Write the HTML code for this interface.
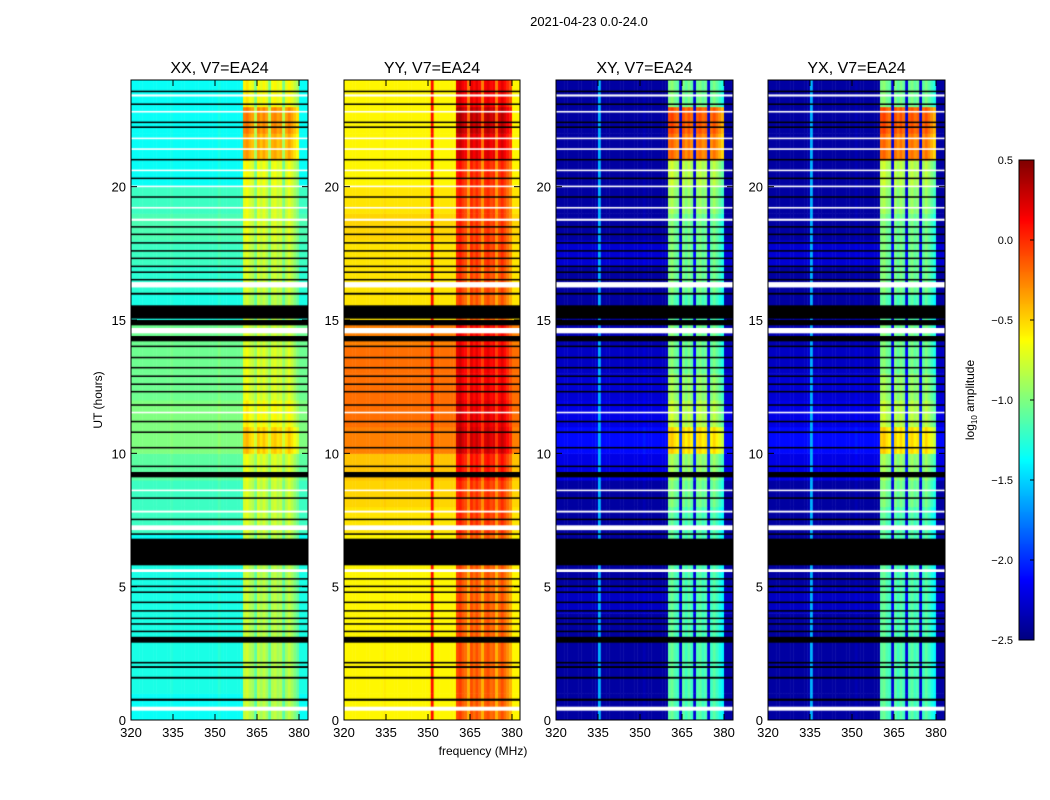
<!DOCTYPE html>
<html><head><meta charset="utf-8">
<style>
body{margin:0;background:#fff;width:1050px;height:800px;overflow:hidden;position:relative;font-family:"Liberation Sans",sans-serif}
canvas{position:absolute}
svg{position:absolute;left:0;top:0}
text{font-family:"Liberation Sans",sans-serif;fill:#000}
</style></head>
<body>
<canvas id="c0" width="177" height="640" style="left:131px;top:80px"></canvas>
<canvas id="c1" width="176" height="640" style="left:344px;top:80px"></canvas>
<canvas id="c2" width="177" height="640" style="left:556px;top:80px"></canvas>
<canvas id="c3" width="177" height="640" style="left:768px;top:80px"></canvas>
<canvas id="cb" width="15" height="480" style="left:1019px;top:160px"></canvas>
<svg id="ax" width="1050" height="800"></svg>
<script>
// ---- data ----
const panelTitles = ["XX, V7=EA24","YY, V7=EA24","XY, V7=EA24","YX, V7=EA24"];
const xTicks = [320,335,350,365,380];
const yTicks = [0,5,10,15,20];
const cbTicks = [0.5,0.0,-0.5,-1.0,-1.5,-2.0,-2.5];
const cbLabels = ["0.5","0.0","\u22120.5","\u22121.0","\u22121.5","\u22122.0","\u22122.5"];
const xxOut = [-1.35,-1.3,-1.3,-1.3,-1.3,-1.3,-1.35,-1.2,-1.2,-1.1,-1.0,-1.0,-1.05,-1.05,-1.05,-1.3,-1.25,-1.2,-1.15,-1.2,-1.35,-1.35,-1.35,-1.35];
const xxIn  = [-0.9,-0.9,-0.9,-0.9,-0.9,-0.9,-0.9,-0.85,-0.85,-0.8,-0.55,-0.7,-0.8,-0.8,-0.85,-0.9,-0.85,-0.85,-0.8,-0.8,-0.75,-0.45,-0.35,-0.7];
const yyOut = [-0.6,-0.6,-0.6,-0.6,-0.6,-0.6,-0.6,-0.55,-0.5,-0.45,-0.25,-0.2,-0.2,-0.2,-0.25,-0.55,-0.55,-0.55,-0.5,-0.55,-0.6,-0.6,-0.6,-0.6];
const yyIn  = [-0.2,-0.2,-0.2,-0.2,-0.2,-0.2,-0.2,-0.1,-0.1,0.0,0.2,0.15,0.1,0.1,0.05,-0.2,-0.15,-0.1,-0.1,-0.1,-0.05,0.15,0.25,0.1];
const xyOut = [-2.4,-2.4,-2.4,-2.4,-2.3,-2.4,-2.4,-2.4,-2.4,-2.2,-2.1,-2.2,-2.25,-2.3,-2.35,-2.4,-2.4,-2.25,-2.4,-2.4,-2.4,-2.4,-2.4,-2.4];
const xyIn  = [-1.2,-1.2,-1.2,-1.2,-1.2,-1.2,-1.2,-1.2,-1.1,-1.0,-0.6,-0.9,-1.0,-1.1,-1.1,-1.2,-1.1,-1.1,-1.1,-1.0,-0.9,-0.3,-0.2,-1.1];
const yxOut = [-2.4,-2.4,-2.4,-2.4,-2.3,-2.4,-2.4,-2.4,-2.4,-2.2,-2.1,-2.2,-2.25,-2.3,-2.35,-2.4,-2.4,-2.25,-2.4,-2.4,-2.4,-2.4,-2.4,-2.4];
const yxIn  = [-1.2,-1.2,-1.2,-1.2,-1.2,-1.2,-1.2,-1.2,-1.1,-1.0,-0.6,-0.9,-1.0,-1.1,-1.1,-1.2,-1.1,-1.1,-1.1,-1.0,-0.9,-0.3,-0.2,-1.1];
const bandMask = [0,0,0,0,0,0,0,0,0,0,0,0,0,0,0,0,0,0,0,0,0,0,0,0,0,0,0,0,0,0,0,0,0,0,0,0,0,0,0,0,1,1,1,1,2,1,1,1,1,2,1,1,1,1,2,1,1,1,1,1,0,0,0,0];
const chanOff  = [0,0,0,0,0,0,0,0,0,0,0,0,0,0,0.05,0,0,0,0,0,0,0,0,0,0,0,0,0,0,0,0,0.1,0,0,0,0,0,0,0,0,0.1,0.15,0.05,0,0,0.1,0,0.1,0,0,0.05,0.1,0,0.05,0,0,0.1,0,-0.1,-0.2,0,0,0,0];
const flags = [[0.35,0.5,"w"],[0.72,0.8,"k"],[1.55,1.62,"k"],[1.95,2.02,"k"],[2.12,2.18,"k"],[2.9,3.12,"k"],[3.3,3.35,"k"],[3.58,3.63,"k"],[3.8,3.84,"k"],[4.08,4.12,"k"],[4.4,4.44,"k"],[4.78,4.82,"k"],[5.0,5.04,"k"],[5.28,5.32,"k"],[5.55,5.65,"w"],[5.8,6.8,"k"],[6.95,7.0,"k"],[7.12,7.3,"w"],[7.5,7.55,"k"],[7.78,7.85,"w"],[8.3,8.35,"k"],[8.58,8.64,"w"],[9.1,9.3,"k"],[9.5,9.54,"k"],[10.2,10.24,"k"],[10.78,10.82,"k"],[11.18,11.22,"k"],[11.5,11.56,"w"],[11.8,11.84,"k"],[12.3,12.34,"k"],[12.58,12.62,"k"],[12.88,12.92,"k"],[13.2,13.24,"k"],[13.58,13.62,"k"],[14.0,14.04,"k"],[14.2,14.4,"k"],[14.5,14.7,"w"],[14.8,15.0,"k"],[15.05,15.55,"k"],[15.95,16.02,"k"],[16.22,16.42,"w"],[16.5,16.54,"k"],[16.78,16.82,"k"],[17.0,17.04,"k"],[17.3,17.34,"k"],[17.58,17.62,"k"],[17.88,17.92,"k"],[18.2,18.24,"k"],[18.48,18.52,"k"],[18.72,18.8,"w"],[19.18,19.24,"w"],[19.6,19.64,"k"],[19.98,20.04,"w"],[20.3,20.34,"k"],[20.58,20.64,"w"],[21.0,21.04,"k"],[21.38,21.44,"w"],[21.78,21.84,"w"],[22.2,22.26,"k"],[22.4,22.44,"k"],[22.78,22.84,"w"],[23.08,23.12,"k"],[23.38,23.46,"w"],[23.55,23.6,"k"]];
const panelOut = [xxOut,yyOut,xyOut,yxOut];
const panelIn  = [xxIn,yyIn,xyIn,yxIn];
const panelLeft = [131,344,556,768];
// ---- scales ----
const VMIN=-2.5, VMAX=0.5, F0=320, PXMHZ=2.8, PXH=640/24;
function xPix(f){return (f-F0)*PXMHZ;}
function yPix(t){return 640-t*PXH;}
function jet(v){
  let x=Math.max(0,Math.min(1,(v-VMIN)/(VMAX-VMIN)));
  const c=t=>Math.round(255*Math.max(0,Math.min(1,1.5-Math.abs(4*x-t))));
  return `rgb(${c(3)},${c(2)},${c(1)})`;
}
for(let p=0;p<4;p++){
  const ctx=document.getElementById('c'+p).getContext('2d');
  const out=panelOut[p], inn=panelIn[p];
  for(let h=0;h<24;h++){
    for(let ch=0;ch<bandMask.length;ch++){
      let v;
      if(bandMask[ch]===1) v=inn[h]+chanOff[ch];
      else if(bandMask[ch]===2) v=(p>=2)?out[h]+0.15:(out[h]+inn[h])/2;
      else v=out[h]+chanOff[ch]*0.5;
      if(p===1 && ch===31) v=0.1;
      if(p>=2 && ch===15) v=-1.6;
      ctx.fillStyle=jet(v);
      const x0=xPix(F0+ch), x1=xPix(F0+ch+1);
      ctx.fillRect(x0,yPix(h+1),x1-x0+0.5,PXH+0.5);
    }
  }
  for(const f of flags){
    ctx.fillStyle=f[2]==="k"?"#000":"#fff";
    const y0=yPix(f[1]), y1=yPix(f[0]);
    ctx.fillRect(0,y0,177,Math.max(1.5,y1-y0));
  }
}
{
  const ctx=document.getElementById('cb').getContext('2d');
  for(let i=0;i<480;i++){ctx.fillStyle=jet(VMAX-(i+0.5)/480*(VMAX-VMIN));ctx.fillRect(0,i,15,1);}
}
// ---- axes ----
const svg=document.getElementById('ax'); const NS="http://www.w3.org/2000/svg";
function el(tag,attrs,txt){const e=document.createElementNS(NS,tag);for(const k in attrs)e.setAttribute(k,attrs[k]);if(txt!=null)e.textContent=txt;svg.appendChild(e);return e;}
let t=el('text',{x:589,y:26,'font-size':13,'text-anchor':'middle'},"2021-04-23 0.0-24.0");


for(let p=0;p<4;p++){
  const L=panelLeft[p], W=(p===1?176:177);
  let r=el('rect',{x:L,y:80,width:W,height:640,fill:'none',stroke:'#000','stroke-width':1});
  
  
  let tt=el('text',{x:L+W/2,y:73,'font-size':16,'text-anchor':'middle'},panelTitles[p]);
  
  
  for(const f of xTicks){
    const x=L+xPix(f);
    el('line',{x1:x,x2:x,y1:720,y2:714,stroke:'#000'});
    el('line',{x1:x,x2:x,y1:80,y2:86,stroke:'#000'});
    let l=el('text',{x:x,y:737,'font-size':13,'text-anchor':'middle'},String(f));
    
    
  }
  for(const h of yTicks){
    const y=80+yPix(h);
    el('line',{x1:L,x2:L+6,y1:y,y2:y,stroke:'#000'});
    el('line',{x1:L+W,x2:L+W-6,y1:y,y2:y,stroke:'#000'});
    let l=el('text',{x:L-5,y:y+5,'font-size':13,'text-anchor':'end'},String(h));
    
    
  }
}
t=el('text',{x:483,y:755,'font-size':12,'text-anchor':'middle'},"frequency (MHz)");


t=el('text',{x:0,y:0,'font-size':12,'text-anchor':'middle',transform:'translate(102,400) rotate(-90)'},"UT (hours)");


let cbf=el('rect',{x:1019,y:160,width:15,height:480,fill:'none',stroke:'#000'});


cbTicks.forEach((v,i)=>{
  const y=160+(VMAX-v)/(VMAX-VMIN)*480;
  el('line',{x1:1030,x2:1034,y1:y,y2:y,stroke:'#000'});
  let l=el('text',{x:1013,y:y+4,'font-size':11,'text-anchor':'end'},cbLabels[i]);
  
  
});
t=el('text',{x:0,y:0,'font-size':12,'text-anchor':'middle',transform:'translate(974,400) rotate(-90)'});
t.innerHTML='log<tspan font-size="8" dy="3">10</tspan><tspan dy="-3"> amplitude</tspan>';


</script>
</body></html>
